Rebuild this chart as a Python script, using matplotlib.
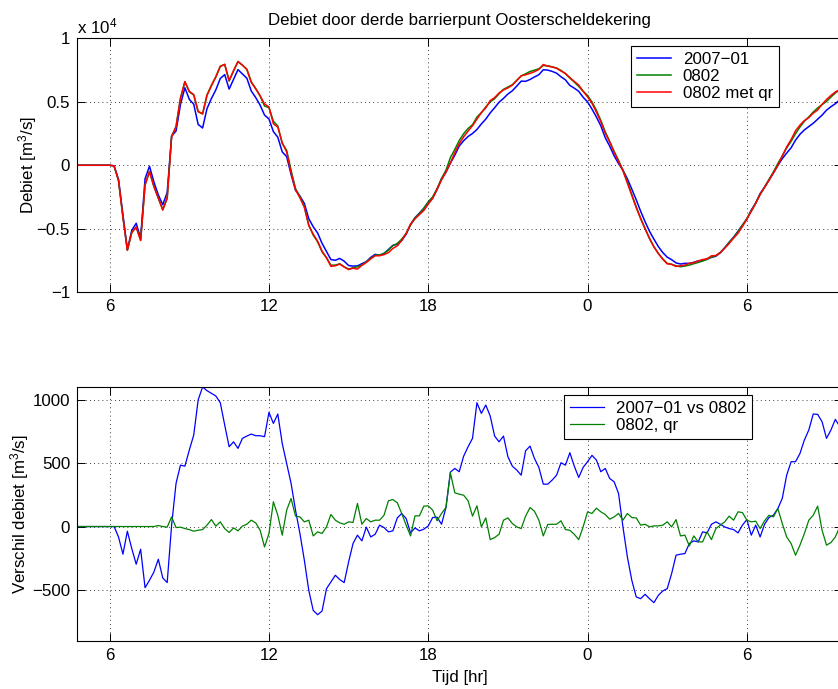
import numpy as np
import matplotlib
matplotlib.use("Agg")
import matplotlib.pyplot as plt
from matplotlib.ticker import FuncFormatter, FixedLocator, FixedFormatter

plt.rcParams['font.family'] = ['Liberation Sans', 'DejaVu Sans']
plt.rcParams['mathtext.fontset'] = 'custom'
plt.rcParams['mathtext.rm'] = 'Liberation Sans'
plt.rcParams['mathtext.it'] = 'Liberation Sans:italic'
plt.rcParams['mathtext.bf'] = 'Liberation Sans:bold'

# ---- data (10-minute steps starting 04:40, hours) ----
t_start_hr = 4 + 40 / 60
t_step_hr = 10 / 60

# discharge of run "0802" [m3/s]
q_0802 = [
    0, 0, 0, 0, 0, 0, 0, 0, 0, -50,
    -1200, -4100, -6700, -5300, -4880, -5930, -1550, -500, -1680, -2600,
    -3520, -2600, 2310, 3040, 5270, 6590, 5800, 5540, 4220, 4040,
    5540, 6320, 6980, 7820, 7950, 6640, 7450, 8160, 7900, 7580,
    6590, 6060, 5460, 4670, 4550, 3470, 3100, 1710, 1180, -390,
    -1840, -2490, -3280, -4720, -5510, -6040, -6830, -7300, -7880, -7880,
    -7770, -8010, -8190, -8090, -8010, -7880, -7610, -7350, -7090, -7090,
    -6960, -6690, -6350, -6170, -5830, -5380, -4720, -4150, -3810, -3410,
    -2900, -2490, -1840, -1050, -390, 600, 1250, 1950, 2490, 2900,
    3200, 3800, 4150, 4600, 5000, 5250, 5640, 5990, 6170, 6350,
    6690, 7040, 7220, 7400, 7500, 7610, 7870, 7840, 7770, 7670,
    7480, 7220, 6880, 6560, 6220, 5830, 5510, 4990, 4330, 3540,
    2630, 1890, 1100, 390, -390, -1310, -2310, -3280, -4200, -4990,
    -5780, -6430, -6960, -7400, -7740, -7820, -7930, -8010, -7950, -7880,
    -7770, -7670, -7560, -7430, -7250, -7140, -6880, -6510, -6090, -5700,
    -5250, -4720, -4200, -3600, -2970, -2310, -1710, -1100, -525, 130,
    735, 1365, 1890, 2490, 3020, 3470, 3810, 4200, 4520, 4780,
    5040, 5380, 5700, 5960,
]

# difference 0802 - 2007-01 [m3/s]
d_2007_vs_0802 = [
    0, 0, 0, 0, 0, 0, 0, 0, 0, 0,
    -82, -218, -37, -174, -297, -179, -482, -424, -358, -258,
    -405, -442, 10, 340, 484, 476, 603, 721, 998, 1100,
    1071, 1050, 1029, 976, 800, 629, 668, 616, 695, 713,
    729, 716, 716, 708, 900, 813, 887, 655, 497, 340,
    129, -55, -266, -503, -661, -695, -666, -490, -437, -384,
    -418, -442, -279, -134, -68, -113, -5, -82, -61, 11,
    -8, -42, -34, 68, 103, 63, -50, -11, -34, -21,
    5, 71, 74, 18, 150, 429, 458, 432, 555, 629,
    695, 976, 892, 958, 871, 713, 668, 713, 550, 476,
    445, 405, 597, 634, 537, 466, 334, 334, 366, 405,
    503, 484, 582, 476, 387, 466, 511, 561, 524, 432,
    458, 379, 353, 261, -3, -240, -424, -555, -569, -534,
    -569, -600, -542, -508, -490, -371, -226, -218, -213, -134,
    -113, -121, -42, -50, 18, 37, 18, -3, -16, -24,
    -50, 11, 55, -68, 11, -82, 18, 71, 89, 142,
    221, 405, 511, 511, 576, 682, 761, 887, 884, 826,
    695, 761, 845, 787,
]

# difference 0802 - (0802 met qr) [m3/s]
d_0802_qr = [
    0, 0, 0, 0, 0, 0, 0, 0, 0, 0,
    0, 0, 0, 0, 0, 0, 0, 0, 0, 8,
    0, -5, 76, -8, -5, -16, -24, -37, -29, -24,
    11, 55, 3, 37, -16, -47, -11, -34, 3, 18,
    50, 29, -29, -161, -55, 195, 89, -68, 129, 221,
    82, 76, 37, 50, -74, -42, -55, -3, 95, 50,
    29, 18, 37, 32, 182, 18, 63, 37, 50, 50,
    89, 203, 213, 187, 103, 11, -74, 84, 84, 161,
    163, 129, 45, 103, 150, 424, 266, 255, 247, 203,
    82, 163, -3, 68, -103, -87, -61, 50, 68, 24,
    -3, -16, 82, 150, 121, 50, -74, 16, 18, 18,
    45, -24, -29, -61, -103, -3, 116, 103, 145, 116,
    95, 58, 76, 103, 50, 103, 71, 68, 11, 18,
    -3, 5, 5, 11, 37, -3, 55, -74, -68, -153,
    -74, -121, -121, -42, -103, -16, 11, 37, 82, 50,
    116, 110, 50, 37, 42, -16, 45, 89, 76, 142,
    24, -82, -134, -226, -147, -55, 50, 89, 161, -29,
    -147, -126, -82, -3,
]

xtick_hours = [6, 12, 18, 24, 30]
xtick_labels = ['6', '12', '18', '0', '6']
top_yticks = [-10000, -5000, 0, 5000, 10000]
bot_yticks = [-500, 0, 500, 1000]

labels_top = ['2007\u221201', '0802', '0802 met qr']
labels_bot = ['2007\u221201 vs 0802', '0802, qr']
title = 'Debiet door derde barrierpunt Oosterscheldekering'

# ---- derived series ----
q0802 = np.asarray(q_0802, float)
d1 = np.asarray(d_2007_vs_0802, float)
d2 = np.asarray(d_0802_qr, float)
t = t_start_hr + t_step_hr * np.arange(len(q0802))
q2007 = q0802 - d1
qqr = q0802 - d2

# ---- figure ----
W, H = 838, 689
fig = plt.figure(figsize=(W / 100, H / 100), dpi=100)
xl = (4.77, 33.6)
pxh = 26.55
ax_w = (xl[1] - xl[0]) * pxh

def frac(left, top, width, height):
    return [left / W, 1 - (top + height) / H, width / W, height / H]

ax1 = fig.add_axes(frac(77, 38.5, ax_w, 253.5))
ax2 = fig.add_axes(frac(77, 387, ax_w, 253.7))

BLUE, GREEN, RED = (0, 0, 1), (0, 0.5, 0), (1, 0, 0)
FS = 12.2

ax1.plot(t, q2007, color=BLUE, lw=1.1, label=labels_top[0])
ax1.plot(t, q0802, color=GREEN, lw=1.1, label=labels_top[1])
ax1.plot(t, qqr, color=RED, lw=1.1, label=labels_top[2])
ax1.set_ylim(-10000, 10000)
ax1.yaxis.set_major_locator(FixedLocator(top_yticks))
ax1.yaxis.set_major_formatter(FuncFormatter(lambda v, p: f"{v/1e4:g}".replace('-', '\u2212')))
ax1.set_ylabel('Debiet [m$^3$/s]', fontsize=FS)
ax1.yaxis.set_label_coords((39 - 77) / ax_w, 0.5)
ax1.set_title(title, fontsize=FS, pad=10)
ax1.text(0.0, 1.01, 'x 10$^{4}$', transform=ax1.transAxes, ha='left', va='bottom', fontsize=FS)

ax2.plot(t, d1, color=BLUE, lw=0.9, label=labels_bot[0])
ax2.plot(t, d2, color=GREEN, lw=0.9, label=labels_bot[1])
ax2.set_ylim(-900, 1100)
ax2.yaxis.set_major_locator(FixedLocator(bot_yticks))
ax2.yaxis.set_major_formatter(FuncFormatter(lambda v, p: f"{v:g}".replace('-', '\u2212')))
ax2.set_ylabel('Verschil debiet [m$^3$/s]', fontsize=FS)
ax2.yaxis.set_label_coords((31 - 77) / ax_w, 0.5)
ax2.set_xlabel('Tijd [hr]', fontsize=FS, labelpad=5)

for ax in (ax1, ax2):
    ax.set_xlim(*xl)
    ax.xaxis.set_major_locator(FixedLocator(xtick_hours))
    ax.xaxis.set_major_formatter(FixedFormatter(xtick_labels))
    ax.tick_params(direction='in', top=True, right=True, length=6, width=0.7,
                   labelsize=FS, pad=5)
    ax.grid(True, color='black', linestyle=(0, (1, 4)), linewidth=0.6)
    for s in ax.spines.values():
        s.set_linewidth(0.8)

leg1 = ax1.legend(loc='upper right', bbox_to_anchor=(779 / W, 1 - 45.7 / H),
                  bbox_transform=fig.transFigure, borderaxespad=0, fancybox=False,
                  framealpha=1, edgecolor='black', fontsize=FS, handlelength=2.0,
                  handletextpad=0.7, labelspacing=0.12, borderpad=0.35)
leg1.get_frame().set_linewidth(0.8)
leg2 = ax2.legend(loc='upper right', bbox_to_anchor=(752.3 / W, 1 - 395 / H),
                  bbox_transform=fig.transFigure, borderaxespad=0, fancybox=False,
                  framealpha=1, edgecolor='black', fontsize=FS, handlelength=2.0,
                  handletextpad=0.7, labelspacing=0.12, borderpad=0.35)
leg2.get_frame().set_linewidth(0.8)

fig.savefig('out.png', dpi=100)
